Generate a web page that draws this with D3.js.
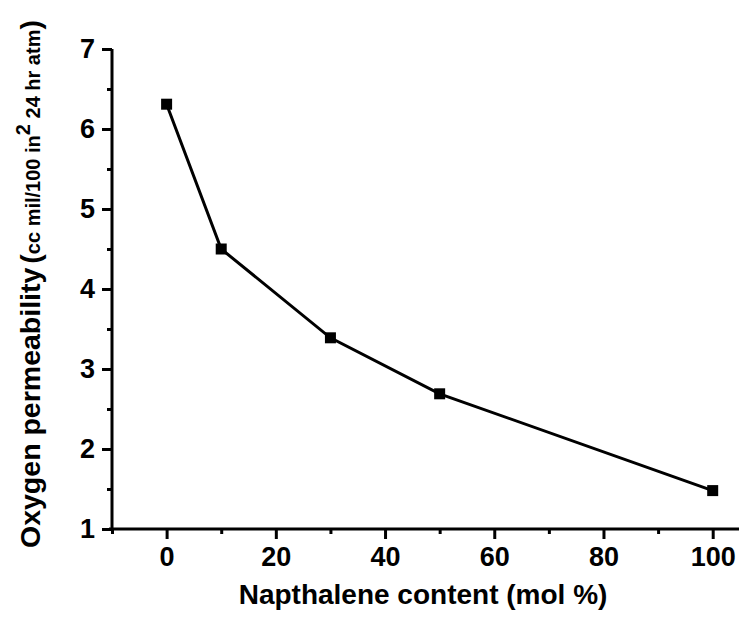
<!DOCTYPE html>
<html>
<head>
<meta charset="utf-8">
<script src="https://cdn.jsdelivr.net/npm/d3@7"></script>
<style>
  html, body { margin: 0; padding: 0; background: #fff; }
  svg { display: block; }
  text { font-family: "Liberation Sans", Arial, sans-serif; fill: #000; }
</style>
</head>
<body>
<svg id="chart" width="739" height="625"></svg>
<script>
const napthaleneContent = [0, 10, 30, 50, 100];
const oxygenPermeability = [6.31, 4.50, 3.39, 2.69, 1.48];
const xTickValues = [0, 20, 40, 60, 80, 100];
const xMinorTickValues = [-10, 10, 30, 50, 70, 90];
const yTickValues = [1, 2, 3, 4, 5, 6, 7];
const yMinorTickValues = [1.5, 2.5, 3.5, 4.5, 5.5, 6.5];

const svg = d3.select("#chart");
const x = d3.scaleLinear().domain([-10, 105]).range([112, 740]);
const y = d3.scaleLinear().domain([1, 7]).range([529, 49]);

// Axes
const xAxis = svg.append("g").attr("transform", `translate(0,${y(1)})`)
  .call(d3.axisBottom(x).tickValues(xTickValues).tickSize(10).tickPadding(8).tickFormat(d3.format("d")));
const xMinor = svg.append("g").attr("transform", `translate(0,${y(1)})`)
  .call(d3.axisBottom(x).tickValues(xMinorTickValues).tickSize(5).tickFormat(""));
const yAxis = svg.append("g").attr("transform", `translate(${x(-10)},0)`)
  .call(d3.axisLeft(y).tickValues(yTickValues).tickSize(10).tickPadding(7).tickFormat(d3.format("d")));
const yMinor = svg.append("g").attr("transform", `translate(${x(-10)},0)`)
  .call(d3.axisLeft(y).tickValues(yMinorTickValues).tickSize(5).tickFormat(""));

[xAxis, xMinor, yAxis, yMinor].forEach(g => {
  g.select(".domain").attr("stroke", "#000").attr("stroke-width", 3);
  g.selectAll(".tick line").attr("stroke", "#000").attr("stroke-width", 3);
});
xMinor.select(".domain").remove();
yMinor.select(".domain").remove();
yAxis.select(".domain").attr("d", `M0,${y(7)}V${y(1) + 1.5}`);
xAxis.select(".domain").attr("d", `M${x(-10) - 3},0H740`);

xAxis.selectAll(".tick text")
  .attr("font-size", 27).attr("font-weight", "bold")
  .attr("font-family", "Liberation Sans, Arial, sans-serif");

yAxis.selectAll(".tick text")
  .attr("font-size", 27).attr("font-weight", "bold")
  .attr("font-family", "Liberation Sans, Arial, sans-serif")
  .attr("dy", "0.3em");

// Line & markers
const line = d3.line().x((d, i) => x(napthaleneContent[i])).y(d => y(d));
svg.append("path").datum(oxygenPermeability)
  .attr("fill", "none").attr("stroke", "#000").attr("stroke-width", 3)
  .attr("d", line);
svg.append("g").selectAll("rect").data(oxygenPermeability).join("rect")
  .attr("x", (d, i) => x(napthaleneContent[i]) - 5.5)
  .attr("y", d => y(d) - 5.5)
  .attr("width", 11).attr("height", 11).attr("fill", "#000");

// X title
svg.append("text")
  .attr("transform", `translate(423,604)`)
  .attr("text-anchor", "middle")
  .attr("font-size", 28).attr("font-weight", "bold")
  .text("Napthalene content (mol %)");

// Y title
const yt = svg.append("text")
  .attr("transform", "translate(40,548) rotate(-90)")
  .attr("text-anchor", "start")
  .attr("font-weight", "bold");
yt.append("tspan").attr("font-size", 28.5).text("Oxygen permeability");
yt.append("tspan").attr("font-size", 28.5).attr("dx", 4).text("(");
yt.append("tspan").attr("font-size", 20).text("cc mil/100 in");
yt.append("tspan").attr("font-size", 20).attr("dy", -10).text("2");
yt.append("tspan").attr("font-size", 20).attr("dy", 10).text(" 24 hr atm");
yt.append("tspan").attr("font-size", 28.5).text(")");
</script>
</body>
</html>
